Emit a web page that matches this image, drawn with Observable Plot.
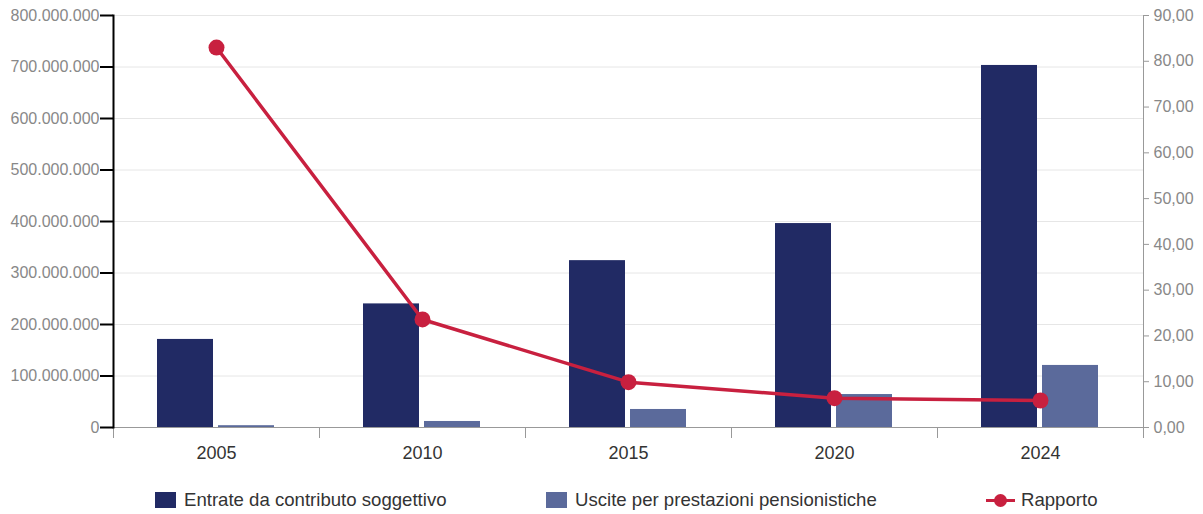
<!DOCTYPE html>
<html>
<head>
<meta charset="utf-8">
<script src="https://cdn.jsdelivr.net/npm/d3@7"></script>
<script src="https://cdn.jsdelivr.net/npm/@observablehq/plot@0.6"></script>
<style>
  body { margin: 0; background: #fff; font-family: "Liberation Sans", Arial, sans-serif; }
  #wrap { position: relative; width: 1203px; height: 514px; }
  #chart svg { display: block; }
  .legend { position: absolute; left: 0; top: 489px; width: 1203px; height: 22px; font-size: 18.6px; color: #333; }
  .item { position: absolute; top: 0; height: 22px; display: flex; align-items: center; white-space: nowrap; }
  .sw { width: 21px; height: 16px; margin-right: 8px; }
  .ln { position: relative; width: 29px; height: 16px; margin-right: 6px; }
  .ln::before { content: ""; position: absolute; left: 0; right: 0; top: 6.5px; height: 3px; background: #c8203f; }
  .ln::after { content: ""; position: absolute; left: 8px; top: 1.5px; width: 13px; height: 13px; border-radius: 50%; background: #c8203f; }
</style>
</head>
<body>
<div id="wrap">
  <div id="chart"></div>
  <div class="legend">
    <div class="item" style="left:155px"><span class="sw" style="background:#212a64"></span>Entrate da contributo soggettivo</div>
    <div class="item" style="left:546px"><span class="sw" style="background:#5b6a9b"></span>Uscite per prestazioni pensionistiche</div>
    <div class="item" style="left:986px"><span class="ln"></span>Rapporto</div>
  </div>
</div>
<script>
// Anni di riferimento
const years = ["2005", "2010", "2015", "2020", "2024"];
// Entrate da contributo soggettivo (euro)
const entrate = [171000000, 240000000, 324000000, 396000000, 703000000];
// Uscite per prestazioni pensionistiche (euro)
const uscite = [3500000, 11700000, 35000000, 64000000, 120500000];
// Rapporto entrate / uscite (asse destro)
const rapporto = [83.0, 23.6, 9.9, 6.4, 5.9];
// Tacche degli assi
const leftTicks = [0, 100000000, 200000000, 300000000, 400000000, 500000000, 600000000, 700000000, 800000000];
const rightTicks = [0, 10, 20, 30, 40, 50, 60, 70, 80, 90];

const W = 1203, H = 470;
const mL = 113, mR = 60, mT = 15, mB = 43;
const yMax = 800000000, rMax = 90;
const k = yMax / rMax; // ratio units -> left-axis units
const band = (W - mL - mR) / years.length;

const it = d3.formatLocale({decimal: ",", thousands: ".", grouping: [3], currency: ["€", ""]});
const fmtL = it.format(",.0f");
const fmtR = it.format(",.2f");

const rows = years.map((y, i) => ({year: y, entrate: entrate[i], uscite: uscite[i], rapporto: rapporto[i]}));

const chart = Plot.plot({
  width: W,
  height: H,
  marginLeft: mL,
  marginRight: mR,
  marginTop: mT,
  marginBottom: mB,
  style: {fontFamily: "'Liberation Sans', Arial, sans-serif", fontSize: "16px", background: "#fff", overflow: "visible"},
  x: {type: "band", domain: years, padding: 0, label: null},
  y: {domain: [0, yMax], label: null},
  marks: [
    Plot.gridY(leftTicks, {stroke: "#e6e6e6", strokeOpacity: 1, strokeWidth: 1}),
    Plot.barY(rows, {x: "year", y: "entrate", fill: "#212a64", insetLeft: 44, insetRight: 106}),
    Plot.barY(rows, {x: "year", y: "uscite", fill: "#5b6a9b", insetLeft: 105, insetRight: 45}),
    Plot.ruleY([0], {stroke: "#999", strokeWidth: 1}),
    // separatori tra le categorie sotto l'asse x
    Plot.ruleX(years, {x: d => d, y1: 0, y2: 0, insetBottom: -11, dx: -band / 2, stroke: "#999"}),
    Plot.ruleX(years.slice(-1), {x: d => d, y1: 0, y2: 0, insetBottom: -11, dx: band / 2, stroke: "#999"}),
    Plot.frame({anchor: "left", stroke: "#000", strokeWidth: 2}),
    Plot.frame({anchor: "right", stroke: "#999", strokeWidth: 1}),
    Plot.axisY(leftTicks, {anchor: "left", tickSize: 13, tickPadding: 1, strokeWidth: 2, stroke: "#000", fill: "#888", tickFormat: fmtL, label: null}),
    Plot.axisY(rightTicks.map(v => v * k), {anchor: "right", tickSize: 5, tickPadding: 5, stroke: "#999", fill: "#888", tickFormat: v => fmtR(v / k), label: null}),
    Plot.axisX({anchor: "bottom", tickSize: 0, tickPadding: 19, fontSize: 18, fill: "#333", label: null}),
    Plot.line(rows, {x: "year", y: d => d.rapporto * k, stroke: "#c8203f", strokeWidth: 3.5}),
    Plot.dot(rows, {x: "year", y: d => d.rapporto * k, r: 8, fill: "#c8203f"})
  ]
});
document.getElementById("chart").appendChild(chart);
</script>
</body>
</html>
